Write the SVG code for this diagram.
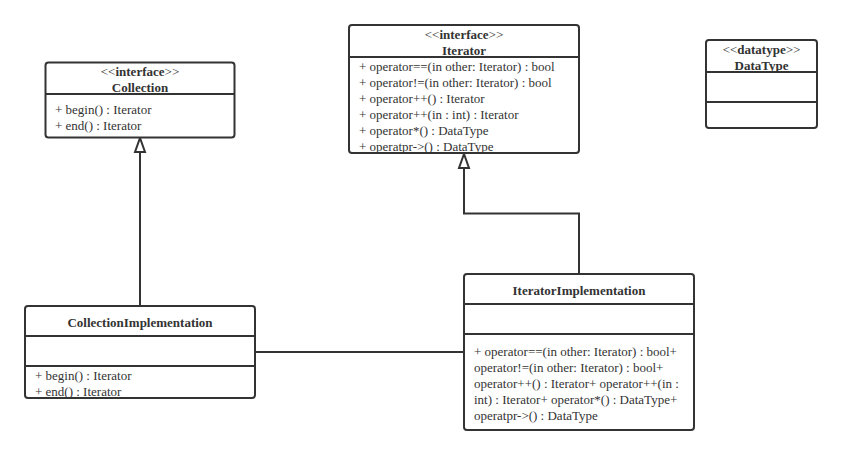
<svg xmlns="http://www.w3.org/2000/svg" width="842" height="455" viewBox="0 0 842 455">
<defs>
<style>
.box{fill:#fff;stroke:#333;stroke-width:2}
.div{stroke:#333;stroke-width:2;fill:none}
.t{font-family:"Liberation Serif",serif;font-size:13px;fill:#333}
.b{font-weight:bold;text-anchor:middle}
.c{text-anchor:middle}
.edge{fill:none;stroke:#333;stroke-width:2}
</style>
<marker id="tri" markerWidth="14" markerHeight="18" refX="6" refY="1" orient="auto-start-reverse" markerUnits="userSpaceOnUse" viewBox="0 0 12 18">
<path d="M6,1 L11,15 L1,15 Z" fill="#fff" stroke="#333" stroke-width="1.8"/>
</marker>
</defs>
<rect width="842" height="455" fill="#fff"/>
<g id="connectors">
<path class="edge" d="M140,306 V152"/>
<path class="edge" d="M140,152 L135,152 L140,138 L145,152 Z" fill="#fff"/>
<path class="edge" d="M579,274 V213.5 H464 V168"/>
<path class="edge" d="M464,168 L459,168 L464,154 L469,168 Z" fill="#fff"/>
<path class="edge" d="M255,352 H464"/>
</g>
<g id="Collection">
<rect class="box" x="45.5" y="62.5" width="189" height="75" rx="3"/>
<path class="div" d="M45.5,94 H234.5"/>
<text class="t c" x="140" y="76">&lt;&lt;<tspan font-weight="bold">interface</tspan>&gt;&gt;</text>
<text class="t b" x="140" y="92">Collection</text>
<text class="t" x="55" y="114">+ begin() : Iterator</text>
<text class="t" x="55" y="130">+ end() : Iterator</text>
</g>
<g id="Iterator">
<rect class="box" x="349" y="25" width="230" height="128" rx="3"/>
<path class="div" d="M349,57 H579"/>
<text class="t c" x="464" y="39">&lt;&lt;<tspan font-weight="bold">interface</tspan>&gt;&gt;</text>
<text class="t b" x="464" y="55">Iterator</text>
<text class="t" x="359" y="71">+ operator==(in other: Iterator) : bool</text>
<text class="t" x="359" y="87">+ operator!=(in other: Iterator) : bool</text>
<text class="t" x="359" y="103">+ operator++() : Iterator</text>
<text class="t" x="359" y="119">+ operator++(in : int) : Iterator</text>
<text class="t" x="359" y="135">+ operator*() : DataType</text>
<text class="t" x="359" y="151">+ operatpr-&gt;() : DataType</text>
</g>
<g id="DataType">
<rect class="box" x="706" y="40" width="111" height="88" rx="3"/>
<path class="div" d="M706,72 H817 M706,102 H817"/>
<text class="t c" x="761.5" y="54">&lt;&lt;<tspan font-weight="bold">datatype</tspan>&gt;&gt;</text>
<text class="t b" x="761.5" y="70">DataType</text>
</g>
<g id="CollectionImplementation">
<rect class="box" x="25" y="306" width="230" height="92" rx="3"/>
<path class="div" d="M25,336 H255 M25,366 H255"/>
<text class="t b" x="140" y="327">CollectionImplementation</text>
<text class="t" x="35" y="380">+ begin() : Iterator</text>
<text class="t" x="35" y="396">+ end() : Iterator</text>
</g>
<g id="IteratorImplementation">
<rect class="box" x="464" y="274" width="230" height="156" rx="3"/>
<path class="div" d="M464,304 H694 M464,334 H694"/>
<text class="t b" x="579" y="295">IteratorImplementation</text>
<text class="t" x="474" y="356">+ operator==(in other: Iterator) : bool+</text>
<text class="t" x="474" y="372">operator!=(in other: Iterator) : bool+</text>
<text class="t" x="474" y="388">operator++() : Iterator+ operator++(in :</text>
<text class="t" x="474" y="404">int) : Iterator+ operator*() : DataType+</text>
<text class="t" x="474" y="420">operatpr-&gt;() : DataType</text>
</g>
</svg>
